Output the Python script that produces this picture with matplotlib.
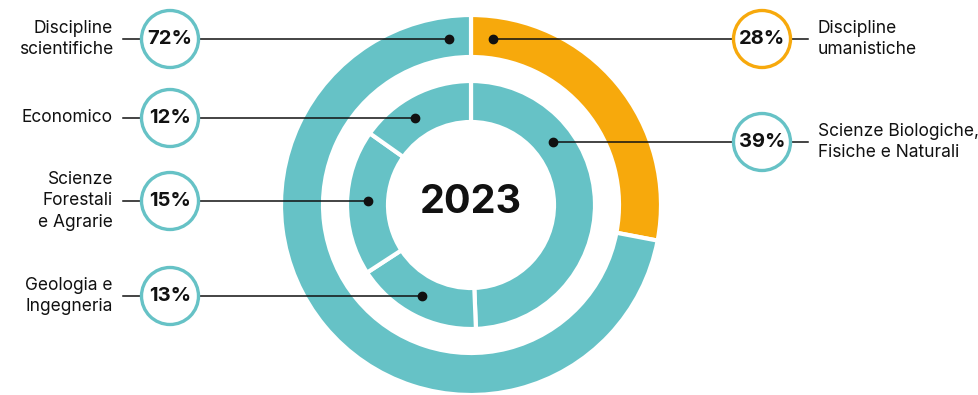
import numpy as np
import matplotlib.pyplot as plt
from matplotlib.patches import Circle

plt.rcParams['font.family'] = ['Inter', 'DejaVu Sans']

# anello esterno
outer_labels = ['Discipline\numanistiche', 'Discipline\nscientifiche']
outer_values = [28, 72]
# anello interno (sottocategorie scientifiche)
inner_labels = ['Scienze Biologiche,\nFisiche e Naturali', 'Geologia e\nIngegneria',
                'Scienze\nForestali\ne Agrarie', 'Economico']
inner_values = [39, 13, 15, 12]
year = '2023'

teal = '#66c2c6'
orange = '#f7a90c'
ink = '#111111'

fig = plt.figure(figsize=(9.79, 3.95), dpi=100)
ax = fig.add_axes([0, 0, 1, 1])

cx, cy = 471, 190
r_out, w_out = 190, 42
r_in, w_in = 124, 41

ax.pie(outer_values, colors=[orange, teal], startangle=90, counterclock=False,
       radius=r_out, center=(cx, cy), frame=True,
       wedgeprops=dict(width=w_out, edgecolor='white', linewidth=3))
ax.pie(inner_values, colors=[teal] * 4, startangle=90, counterclock=False,
       radius=r_in, center=(cx, cy), frame=True,
       wedgeprops=dict(width=w_in, edgecolor='white', linewidth=3))
ax.set_xlim(0, 979)
ax.set_ylim(0, 395)
ax.set_aspect('equal')
ax.axis('off')

ax.text(cx, cy + 2, year, ha='center', va='center', fontsize=28.5, fontweight='bold', color=ink)

# (etichetta, valore, colore cerchio, y, lato, raggio dei punti)
m_out = r_out - w_out / 2 - 1.5
m_in = r_in - w_in / 2
callouts = [
    (outer_labels[1], outer_values[1], teal, 356, 'L', m_out),
    (inner_labels[3], inner_values[3], teal, 277, 'L', m_in),
    (inner_labels[2], inner_values[2], teal, 194, 'L', m_in),
    (inner_labels[1], inner_values[1], teal, 99, 'L', m_in),
    (outer_labels[0], outer_values[0], orange, 356, 'R', m_out),
    (inner_labels[0], inner_values[0], teal, 253, 'R', m_in),
]

for text, val, col, y, side, rm in callouts:
    dx = np.sqrt(max(rm ** 2 - (y - cy) ** 2, 0))
    if side == 'L':
        xd = cx - dx
        xc = 170
        x0 = 123
        ax.plot([x0, xd], [y, y], color=ink, lw=1.1, zorder=3)
        ax.text(113, y, text, ha='right', va='center', fontsize=12.5,
                color=ink, linespacing=1.38)
    else:
        xd = cx + dx
        xc = 762
        x0 = 808
        ax.plot([xd, x0], [y, y], color=ink, lw=1.1, zorder=3)
        ax.text(818, y, text, ha='left', va='center', fontsize=12.5,
                color=ink, linespacing=1.38)
    ax.plot(xd, y, 'o', color=ink, ms=6, zorder=4)
    ax.add_patch(Circle((xc, y), 28.5, facecolor='white', edgecolor=col, lw=2.4, zorder=5))
    ax.text(xc, y, f'{val}%', ha='center', va='center', fontsize=14.5,
            fontweight='bold', color=ink, zorder=6)

fig.savefig('out.png', dpi=100)
